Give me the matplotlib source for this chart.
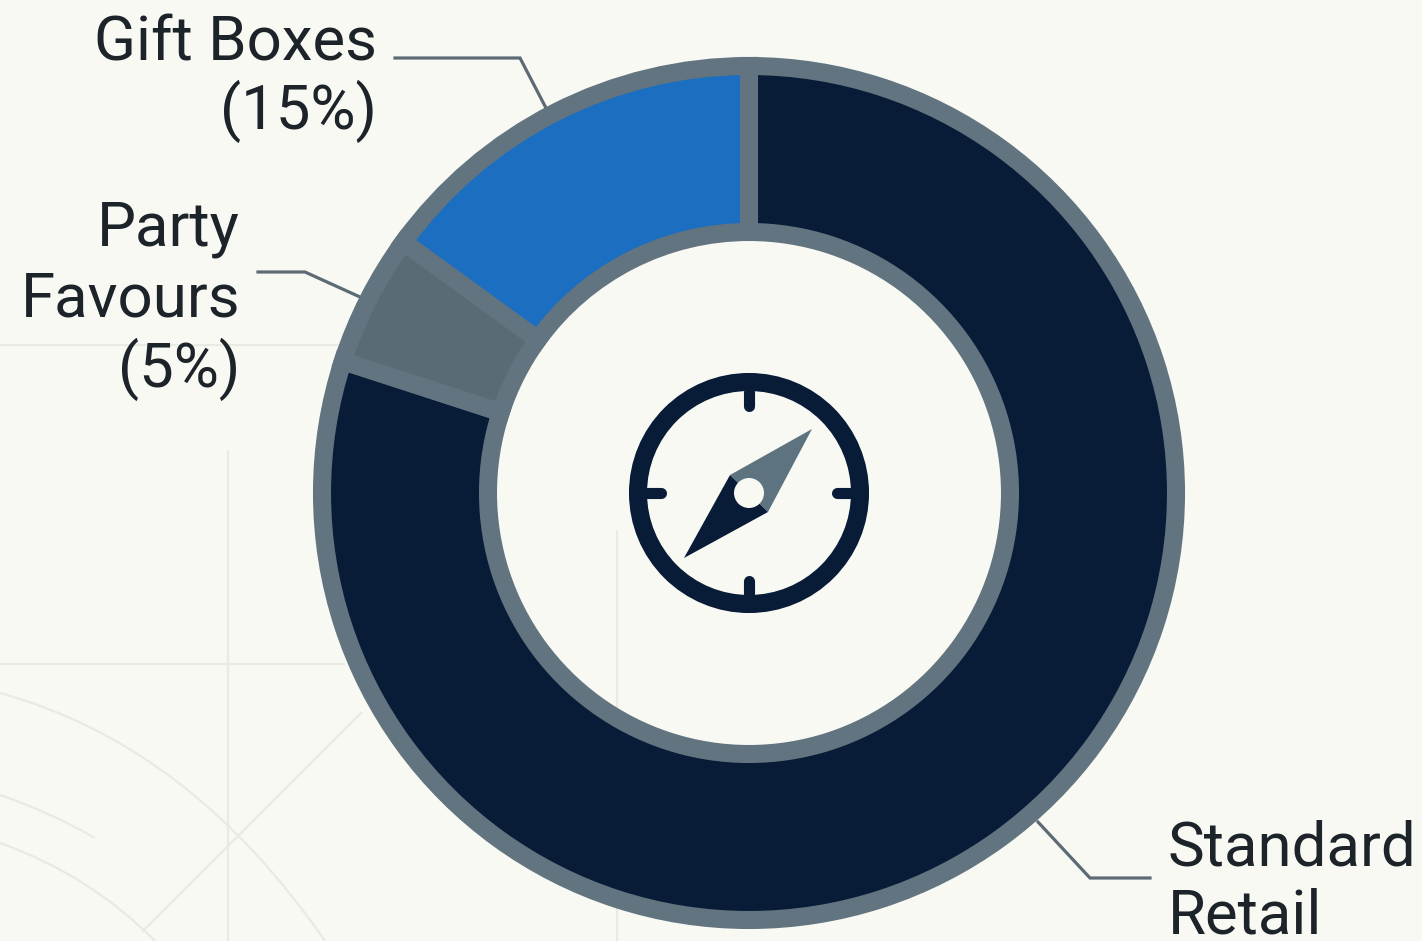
#Donut chart of sales channels with a compass icon in the middle
import matplotlib
matplotlib.use('Agg')
import matplotlib.pyplot as plt
from matplotlib.patches import Circle, Polygon, PathPatch
from matplotlib.path import Path

W = 1422
H = 941

#shares, going clockwise from 12 o'clock
channels = ['Standard Retail', 'Party Favours', 'Gift Boxes']
shares = [80, 5, 15]
slice_colors = ['#081C38', '#5A6B76', '#1B6EC0']

BG = '#F9F9F4'
STROKE = '#62747F'
NAVY = '#081C38'
TEXT = '#1C2329'
FAINT = '#EAEAE5'
LEADER = '#5C6A73'
FS = 44.5

plt.rcParams['font.family'] = ['Roboto', 'DejaVu Sans']


#y values below are measured from the top of the canvas
def fy(y):
    return H - y


fig = plt.figure(figsize=(W / 100, H / 100), dpi=100, facecolor=BG)
ax = fig.add_axes([0, 0, 1, 1])

#faint construction lines behind the chart
straight = [
    ([0, 345], [345, 345]),
    ([0, 345], [664, 664]),
    ([228, 228], [450, 941]),
    ([617, 617], [530, 941]),
    ([362, 142], [712, 932]),
]
for xs, ys in straight:
    ax.plot(xs, [fy(y) for y in ys], color=FAINT, lw=1.6, zorder=1, solid_capstyle='butt')

#start, control and end of each curved line
curves = [
    ((0, 693), (190, 745), (325, 941)),
    ((0, 795), (50, 812), (95, 838)),
    ((0, 843), (90, 875), (155, 941)),
]
for p0, p1, p2 in curves:
    verts = [(x, fy(y)) for x, y in (p0, p1, p2)]
    ax.add_patch(PathPatch(Path(verts, [Path.MOVETO, Path.CURVE3, Path.CURVE3]),
                           fc='none', ec=FAINT, lw=1.6, zorder=1))

#the donut itself, with a thick stroke round every slice
wedges, _ = ax.pie(shares, colors=slice_colors, startangle=90, counterclock=False,
                   center=(749, fy(493)), radius=427,
                   wedgeprops=dict(width=166, edgecolor=STROKE, linewidth=13, zorder=3))

#pie() resets the limits so set them after it
ax.set_xlim(0, W)
ax.set_ylim(0, H)
ax.set_aspect('equal')
ax.axis('off')

#leader lines
leaders = [
    ([395, 520, 546], [58, 58, 108]),
    ([258, 305, 360], [272, 272, 297]),
    ([1038, 1090, 1150], [822, 878, 878]),
]
for xs, ys in leaders:
    ax.plot(xs, [fy(y) for y in ys], color=LEADER, lw=2.3, zorder=2, solid_joinstyle='miter')

#labels
ax.text(377, fy(43), 'Gift Boxes', ha='right', va='center', fontsize=FS, color=TEXT)
ax.text(377, fy(111), '(15%)', ha='right', va='center', fontsize=FS, color=TEXT)
ax.text(240, fy(229), 'Party', ha='right', va='center', fontsize=FS, color=TEXT)
ax.text(240, fy(299), 'Favours', ha='right', va='center', fontsize=FS, color=TEXT)
ax.text(240, fy(369), '(5%)', ha='right', va='center', fontsize=FS, color=TEXT)
ax.text(1168, fy(848), 'Standard', ha='left', va='center', fontsize=FS, color=TEXT)
ax.text(1168, fy(917), 'Retail', ha='left', va='center', fontsize=FS, color=TEXT)

#compass icon
ax.add_patch(Circle((749, fy(493)), 111, fc='none', ec=NAVY, lw=13, zorder=5))
ticks = [
    ([749, 749], [392, 406]),
    ([749, 749], [581, 595]),
    ([647, 661], [493, 493]),
    ([837, 851], [493, 493]),
]
for xs, ys in ticks:
    ax.plot(xs, [fy(y) for y in ys], color=NAVY, lw=8, zorder=5, solid_capstyle='round')

ax.add_patch(Polygon([(812, fy(429)), (730, fy(475)), (768, fy(512))], fc='#5D7380', ec='none', zorder=5))
ax.add_patch(Polygon([(684, fy(558)), (730, fy(475)), (768, fy(512))], fc=NAVY, ec='none', zorder=5))
ax.add_patch(Circle((749, fy(493)), 15, fc=BG, ec='none', zorder=6))

fig.savefig('out.png', dpi=100, facecolor=BG)
